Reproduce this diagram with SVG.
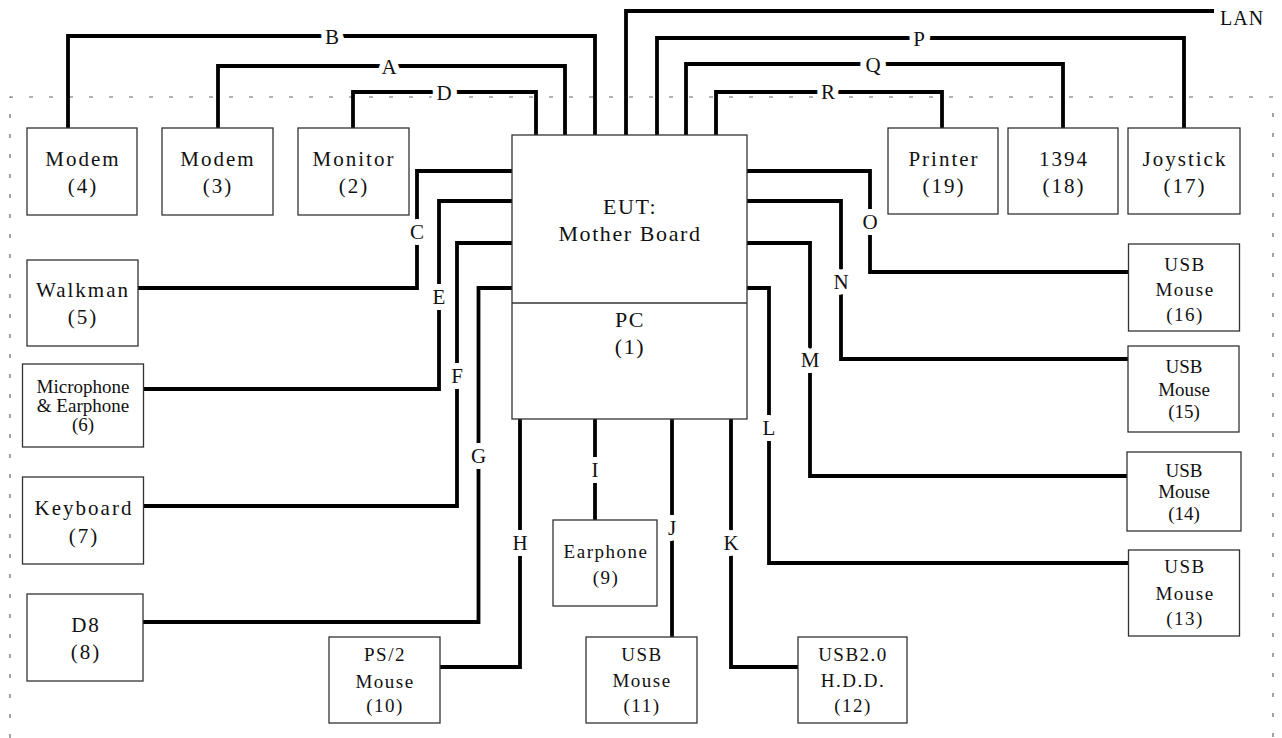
<svg xmlns="http://www.w3.org/2000/svg" width="1282" height="738" viewBox="0 0 1282 738" font-family="'Liberation Serif', 'DejaVu Serif', 'Times New Roman', serif">
<style>
  text { font-family: 'Liberation Serif', 'DejaVu Serif', 'Times New Roman', serif; fill: #111; text-anchor: middle; }
  .box { fill: #fff; stroke: #333; stroke-width: 1.3; }
  .big { font-size: 21px; letter-spacing: 2px; }
  .mid { font-size: 19px; }
  .sp { letter-spacing: 1.5px; }
  .eut { font-size: 22px; letter-spacing: 1.6px; }
  .conn { fill: none; stroke: #000; stroke-width: 3.8; stroke-linejoin: miter; stroke-linecap: butt; }
  .border { fill: none; stroke: #666; stroke-width: 1.2; stroke-dasharray: 4 16; }
  .lbl { font-size: 21px; stroke: #fff; stroke-width: 12px; paint-order: stroke; stroke-linejoin: round; }
</style>
<rect width="1282" height="738" fill="#fff"/>
<path class="border" d="M10,738 V97 H1273 V738"/>

<g id="connectors">
  <path class="conn" d="M68,128 V36 H595 V135"/>
  <path class="conn" d="M218,128 V66 H565 V135"/>
  <path class="conn" d="M353,128 V92 H536 V135"/>
  <path class="conn" d="M626,135 V11 H1214"/>
  <path class="conn" d="M657,135 V38 H1184 V128"/>
  <path class="conn" d="M686,135 V64 H1063 V128"/>
  <path class="conn" d="M716,135 V92 H942 V128"/>
  <path class="conn" d="M512,171 H417 V288 H138"/>
  <path class="conn" d="M512,201 H439 V389 H144"/>
  <path class="conn" d="M512,243 H457 V506 H144"/>
  <path class="conn" d="M512,288 H478.5 V622 H143"/>
  <path class="conn" d="M520,419 V667 H440"/>
  <path class="conn" d="M595,419 V520"/>
  <path class="conn" d="M672,419 V637"/>
  <path class="conn" d="M731,419 V667 H798"/>
  <path class="conn" d="M747,288 H769 V563 H1128"/>
  <path class="conn" d="M747,243 H810 V476 H1127"/>
  <path class="conn" d="M747,201 H841 V359 H1128"/>
  <path class="conn" d="M747,171 H870 V272 H1128"/>
  <text class="lbl" x="332" y="43.5">B</text>
  <text class="lbl" x="389" y="73.5">A</text>
  <text class="lbl" x="444" y="99.5">D</text>
  <text class="lbl" x="919" y="45.5">P</text>
  <text class="lbl" x="873" y="71.5">Q</text>
  <text class="lbl" x="828" y="99">R</text>
  <text class="lbl" x="417" y="239">C</text>
  <text class="lbl" x="439" y="304">E</text>
  <text class="lbl" x="457" y="383">F</text>
  <text class="lbl" x="478.5" y="463">G</text>
  <text class="lbl" x="520" y="550">H</text>
  <text class="lbl" x="595" y="477">I</text>
  <text class="lbl" x="672" y="535">J</text>
  <text class="lbl" x="731" y="550">K</text>
  <text class="lbl" x="769" y="435">L</text>
  <text class="lbl" x="810" y="367">M</text>
  <text class="lbl" x="841" y="289">N</text>
  <text class="lbl" x="870" y="229">O</text>
  <text x="1220" y="25" style="font-size:20px;letter-spacing:1px;text-anchor:start">LAN</text>
</g>

<g id="eut">
  <rect class="box" x="512" y="135" width="235" height="284"/>
  <line x1="512" y1="303" x2="747" y2="303" stroke="#333" stroke-width="1.3"/>
  <text class="eut" x="630" y="214">EUT:</text>
  <text class="eut" x="630" y="241">Mother Board</text>
  <text class="eut" x="630" y="327">PC</text>
  <text class="eut" x="630" y="354">(1)</text>
</g>

<g id="modem4">
  <rect class="box" x="27" y="128" width="110" height="87"/>
  <text class="big" x="83" y="166">Modem</text>
  <text class="big" x="83" y="193">(4)</text>
</g>
<g id="modem3">
  <rect class="box" x="162" y="128" width="111" height="87"/>
  <text class="big" x="218" y="166">Modem</text>
  <text class="big" x="218" y="193">(3)</text>
</g>
<g id="monitor2">
  <rect class="box" x="298" y="128" width="111" height="87"/>
  <text class="big" x="354" y="166">Monitor</text>
  <text class="big" x="354" y="193">(2)</text>
</g>
<g id="printer19">
  <rect class="box" x="888" y="128" width="110" height="86"/>
  <text class="big" x="944" y="166">Printer</text>
  <text class="big" x="944" y="193">(19)</text>
</g>
<g id="p1394">
  <rect class="box" x="1008" y="128" width="110" height="86"/>
  <text class="big" x="1064" y="166">1394</text>
  <text class="big" x="1064" y="193">(18)</text>
</g>
<g id="joystick17">
  <rect class="box" x="1128" y="128" width="112" height="86"/>
  <text class="big" x="1185" y="166">Joystick</text>
  <text class="big" x="1185" y="193">(17)</text>
</g>
<g id="walkman5">
  <rect class="box" x="27" y="260" width="111" height="86"/>
  <text class="big" x="83" y="297">Walkman</text>
  <text class="big" x="83" y="324">(5)</text>
</g>
<g id="mic6">
  <rect class="box" x="22.5" y="364" width="121" height="83"/>
  <text class="mid" x="83" y="393">Microphone</text>
  <text class="mid" x="83" y="412">&amp; Earphone</text>
  <text class="mid" x="83" y="431">(6)</text>
</g>
<g id="keyboard7">
  <rect class="box" x="22.5" y="477" width="121" height="87"/>
  <text class="big" x="84" y="515">Keyboard</text>
  <text class="big" x="84" y="543">(7)</text>
</g>
<g id="d8">
  <rect class="box" x="27" y="594" width="116" height="87"/>
  <text class="big" x="86" y="632">D8</text>
  <text class="big" x="86" y="659">(8)</text>
</g>
<g id="ps2mouse10">
  <rect class="box" x="329" y="637" width="111" height="86"/>
  <text class="mid sp" x="385" y="661">PS/2</text>
  <text class="mid sp" x="385" y="688">Mouse</text>
  <text class="mid sp" x="385" y="712">(10)</text>
</g>
<g id="earphone9">
  <rect class="box" x="553" y="520" width="104" height="86"/>
  <text class="mid sp" x="606" y="558">Earphone</text>
  <text class="mid sp" x="606" y="584">(9)</text>
</g>
<g id="usbmouse11">
  <rect class="box" x="586" y="637" width="111" height="86"/>
  <text class="mid sp" x="642" y="661">USB</text>
  <text class="mid sp" x="642" y="687">Mouse</text>
  <text class="mid sp" x="642" y="712">(11)</text>
</g>
<g id="usbhdd12">
  <rect class="box" x="798" y="637" width="109" height="86"/>
  <text class="mid sp" x="853" y="661">USB2.0</text>
  <text class="mid sp" x="853" y="687">H.D.D.</text>
  <text class="mid sp" x="853" y="712">(12)</text>
</g>
<g id="usbmouse16">
  <rect class="box" x="1128.5" y="244" width="111" height="87"/>
  <text class="mid sp" x="1185" y="271">USB</text>
  <text class="mid sp" x="1185" y="296">Mouse</text>
  <text class="mid sp" x="1185" y="321">(16)</text>
</g>
<g id="usbmouse15">
  <rect class="box" x="1128" y="346" width="111" height="86"/>
  <text class="mid" x="1184" y="373">USB</text>
  <text class="mid" x="1184" y="396">Mouse</text>
  <text class="mid" x="1184" y="418">(15)</text>
</g>
<g id="usbmouse14">
  <rect class="box" x="1127" y="452" width="114" height="79"/>
  <text class="mid" x="1184" y="477">USB</text>
  <text class="mid" x="1184" y="498">Mouse</text>
  <text class="mid" x="1184" y="520">(14)</text>
</g>
<g id="usbmouse13">
  <rect class="box" x="1128.5" y="550" width="111" height="86"/>
  <text class="mid sp" x="1185" y="573">USB</text>
  <text class="mid sp" x="1185" y="600">Mouse</text>
  <text class="mid sp" x="1185" y="625">(13)</text>
</g>
</svg>
